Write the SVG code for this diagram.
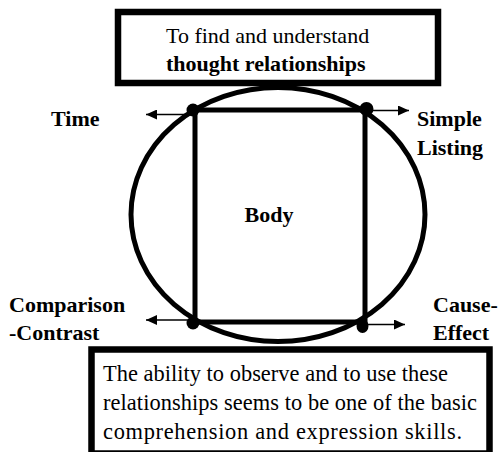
<svg xmlns="http://www.w3.org/2000/svg" width="499" height="452" viewBox="0 0 499 452">
<style>
.t{font-family:"Liberation Serif","Times New Roman",serif;font-size:22px;fill:#000}
.b{font-weight:bold}
.box{fill:#fff;stroke:#000;stroke-width:6.5}
.thick{fill:none;stroke:#000;stroke-width:5}
.conn{stroke:#000;stroke-width:1.6;fill:none;marker-end:url(#ah)}
</style>
<defs>
<marker id="ah" markerUnits="userSpaceOnUse" markerWidth="12" markerHeight="10" refX="11" refY="5" orient="auto">
<path d="M0,0 L11,5 L0,10 Z" fill="#000"/>
</marker>
</defs>
<rect width="499" height="452" fill="#fff"/>
<g id="body">
<ellipse cx="278" cy="214.5" rx="147" ry="127" class="thick"/>
<rect x="195" y="110" width="170" height="212" class="thick"/>
<text class="t b" x="269" y="222" text-anchor="middle">Body</text>
</g>
<g id="connectors">
<line x1="188" y1="114.5" x2="146" y2="114.5" class="conn"/>
<line x1="372" y1="110.5" x2="409" y2="110.5" class="conn"/>
<line x1="188" y1="320" x2="146" y2="320" class="conn"/>
<line x1="368" y1="324.5" x2="405" y2="324.5" class="conn"/>
<circle cx="193" cy="110" r="6.5"/>
<circle cx="366.5" cy="109" r="7"/>
<circle cx="193" cy="323" r="6.5"/>
<ellipse cx="362.5" cy="326" rx="6" ry="7"/>
</g>
<g id="top">
<rect x="118" y="12" width="320" height="71" class="box"/>
<text class="t" x="166" y="43">To find and understand</text>
<text class="t b" x="166" y="71">thought relationships</text>
</g>
<g id="time"><text class="t b" x="51" y="126">Time</text></g>
<g id="simple"><text class="t b" x="417" y="126">Simple</text><text class="t b" x="417" y="155">Listing</text></g>
<g id="comparison"><text class="t b" x="9" y="312">Comparison</text><text class="t b" x="9" y="340">-Contrast</text></g>
<g id="cause"><text class="t b" x="433" y="312">Cause-</text><text class="t b" x="433" y="340">Effect</text></g>
<g id="bottom">
<rect x="91.5" y="349.5" width="398" height="104" class="box"/>
<text class="t" x="103" y="381" style="font-size:22.4px" textLength="345" lengthAdjust="spacing">The ability to observe and to use these</text>
<text class="t" x="103" y="410" style="font-size:22.4px" textLength="374" lengthAdjust="spacing">relationships seems to be one of the basic</text>
<text class="t" x="103" y="439" style="font-size:22.4px" textLength="359" lengthAdjust="spacing">comprehension and expression skills.</text>
</g>
</svg>
